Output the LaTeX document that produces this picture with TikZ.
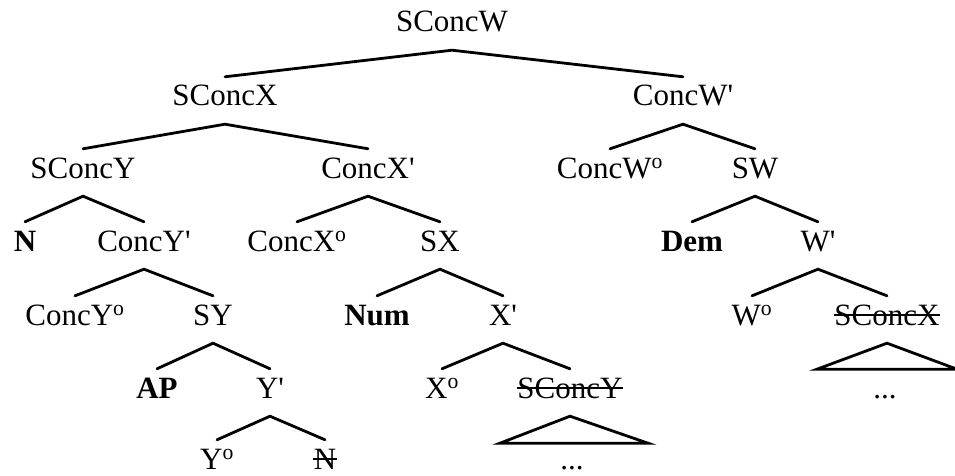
\documentclass[tikz,border=0pt]{standalone}
\usepackage{fontspec}
\setmainfont{Liberation Serif}
\newcommand{\pr}{\textquotesingle}
\newcommand{\dg}{\textsuperscript{o}}
\tikzset{
  tn/.style={anchor=base, inner sep=0pt, text height=22pt, text depth=0pt, font=\fontsize{31}{36}\selectfont},
  br/.style={line width=2.8pt, line cap=round, line join=miter},
  strike/.style={line width=1.6pt},
}
\begin{document}
\begin{tikzpicture}[x=1pt,y=-1pt]
\useasboundingbox (0,0) rectangle (955,476);
% row 0
\node[tn] (w) at (452,32) {SConcW};
% row 1
\node[tn] (x) at (225,106) {SConcX};
\node[tn] (wp) at (683,106) {ConcW\pr};
% row 2
\node[tn] (y) at (83,178) {SConcY};
\node[tn] (xp) at (368,178) {ConcX\pr};
\node[tn] (w0c) at (610,178) {ConcW\dg};
\node[tn] (sw) at (755,178) {SW};
% row 3
\node[tn] (n) at (25,251) {\textbf{N}};
\node[tn] (yp) at (144,251) {ConcY\pr};
\node[tn] (x0c) at (297,251) {ConcX\dg};
\node[tn] (sx) at (440,251) {SX};
\node[tn] (dem) at (692,251) {\textbf{Dem}};
\node[tn] (wbar) at (818,251) {W\pr};
% row 4
\node[tn] (y0c) at (75,325) {ConcY\dg};
\node[tn] (sy) at (213,325) {SY};
\node[tn] (num) at (377,325) {\textbf{Num}};
\node[tn] (xbar) at (503,325) {X\pr};
\node[tn] (w0) at (752,325) {W\dg};
\node[tn] (xs) at (887,325) {SConcX};
% row 5
\node[tn] (ap) at (157,398) {\textbf{AP}};
\node[tn] (ybar) at (270,398) {Y\pr};
\node[tn] (x0) at (442,398) {X\dg};
\node[tn] (ys) at (570,398) {SConcY};
\node[tn] (dots1) at (885,398) {...};
% row 6
\node[tn] (y0) at (217,469) {Y\dg};
\node[tn] (ns) at (325,469) {N};
\node[tn] (dots2) at (572,469) {...};
% strike-throughs
\draw[strike] ([yshift=10pt]xs.base west) -- ([yshift=10pt]xs.base east);
\draw[strike] ([yshift=10pt]ys.base west) -- ([yshift=10pt]ys.base east);
\draw[strike] ([yshift=10pt,xshift=-1pt]ns.base west) -- ([yshift=10pt,xshift=1pt]ns.base east);
% branches
\foreach \p/\a/\b in {w/x/wp, x/y/xp, wp/w0c/sw, y/n/yp, xp/x0c/sx, sw/dem/wbar,
  yp/y0c/sy, sx/num/xbar, wbar/w0/xs, sy/ap/ybar, xbar/x0/ys, ybar/y0/ns}{
  \draw[br] ([yshift=7pt]\a.north) -- ([yshift=-18pt]\p.south) -- ([yshift=7pt]\b.north);
}
% triangles
\draw[br] ([yshift=-18pt]xs.south) -- ++(-70,26) -- ++(140,0) -- cycle;
\draw[br] ([yshift=-18pt]ys.south) -- ++(-70,27) -- ++(148,0) -- cycle;
\end{tikzpicture}
\end{document}
